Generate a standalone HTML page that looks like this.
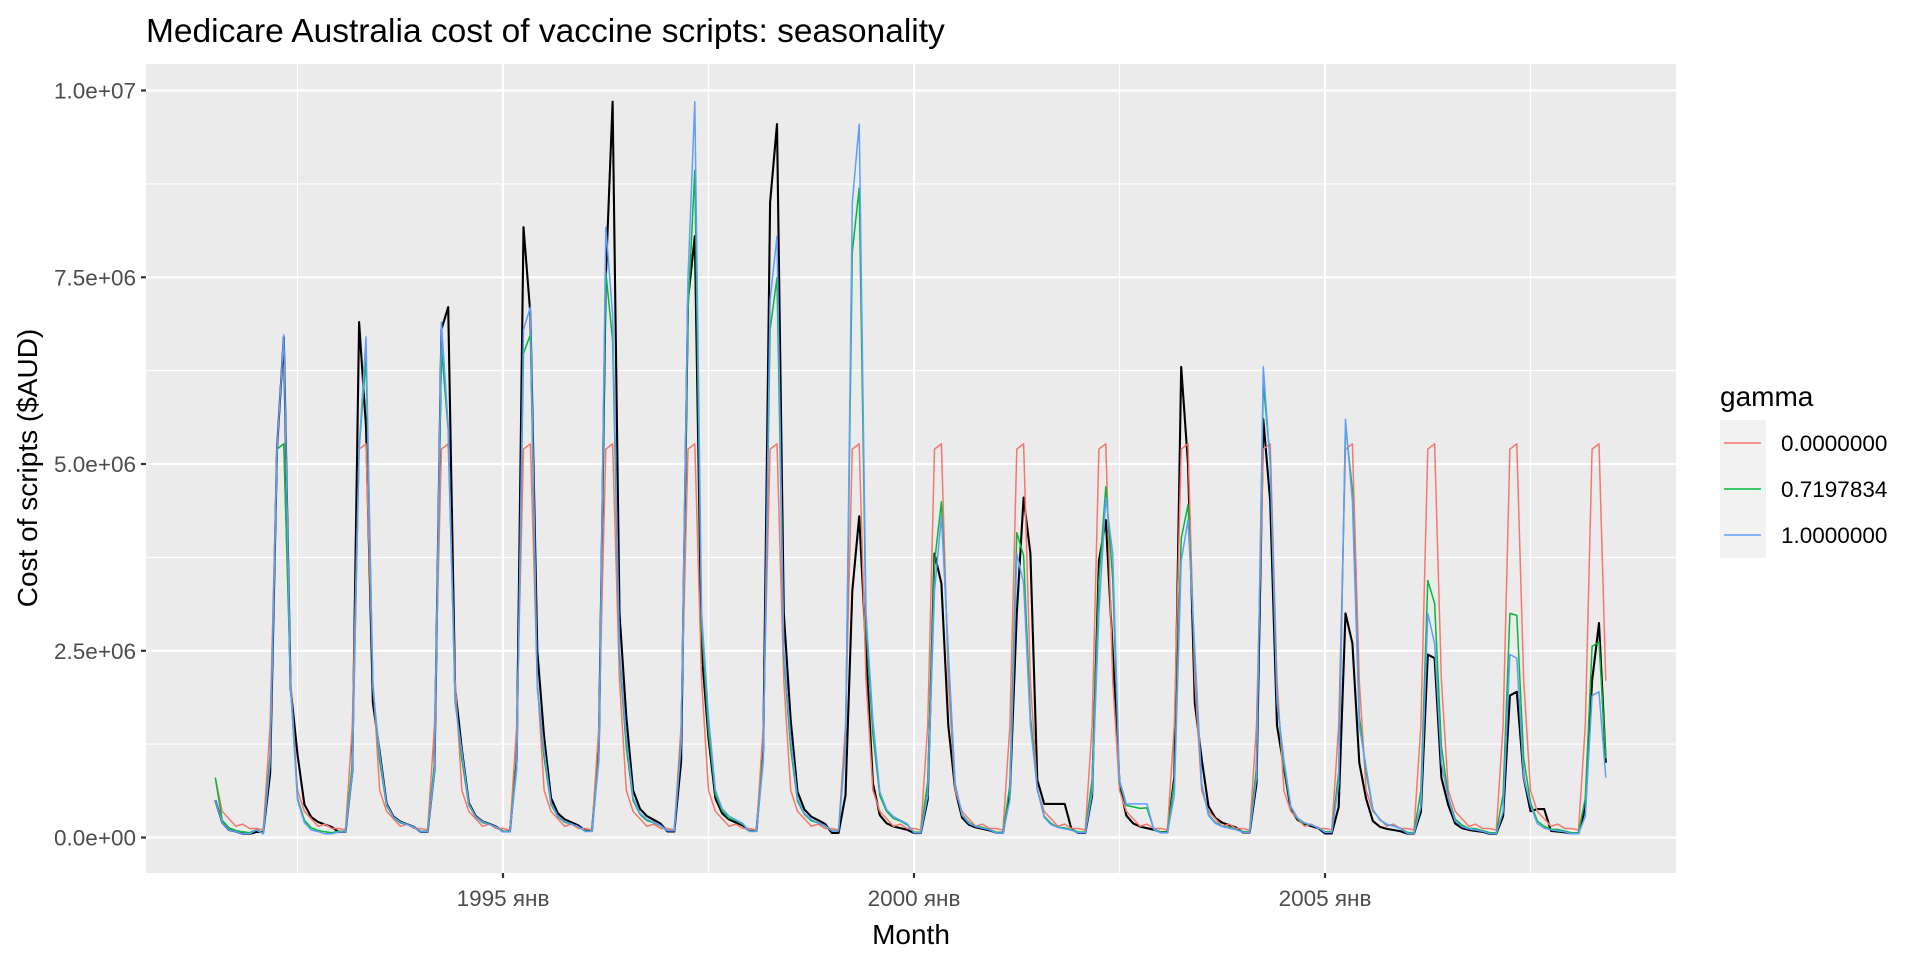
<!DOCTYPE html>
<html><head><meta charset="utf-8">
<style>
html,body{margin:0;padding:0;background:#fff;}
svg{display:block;font-family:"Liberation Sans",Arial,sans-serif;}
</style></head>
<body>
<svg id="s" width="1920" height="960" viewBox="0 0 1920 960" xmlns="http://www.w3.org/2000/svg">
<rect x="0" y="0" width="1920" height="960" fill="#fff"/>
<rect x="146" y="64" width="1530" height="809" fill="#ebebeb"/>
<g stroke="#fff" stroke-width="1.1">
<line x1="146" x2="1676" y1="744.1" y2="744.1"/>
<line x1="146" x2="1676" y1="557.4" y2="557.4"/>
<line x1="146" x2="1676" y1="370.6" y2="370.6"/>
<line x1="146" x2="1676" y1="183.9" y2="183.9"/>
<line x1="297.5" x2="297.5" y1="64" y2="873"/>
<line x1="708.5" x2="708.5" y1="64" y2="873"/>
<line x1="1119.5" x2="1119.5" y1="64" y2="873"/>
<line x1="1530.5" x2="1530.5" y1="64" y2="873"/>
</g>
<g stroke="#fff" stroke-width="2.2">
<line x1="146" x2="1676" y1="837.5" y2="837.5"/>
<line x1="146" x2="1676" y1="650.8" y2="650.8"/>
<line x1="146" x2="1676" y1="464" y2="464"/>
<line x1="146" x2="1676" y1="277.3" y2="277.3"/>
<line x1="146" x2="1676" y1="90.5" y2="90.5"/>
<line x1="503" x2="503" y1="64" y2="873"/>
<line x1="914" x2="914" y1="64" y2="873"/>
<line x1="1325" x2="1325" y1="64" y2="873"/>
</g>
<g id="lines" fill="none" stroke-linejoin="round"></g>
<g stroke="#333" stroke-width="2.2">
<line x1="141" x2="146" y1="837.5" y2="837.5"/>
<line x1="141" x2="146" y1="650.8" y2="650.8"/>
<line x1="141" x2="146" y1="464" y2="464"/>
<line x1="141" x2="146" y1="277.3" y2="277.3"/>
<line x1="141" x2="146" y1="90.5" y2="90.5"/>
<line x1="503" x2="503" y1="873" y2="878"/>
<line x1="914" x2="914" y1="873" y2="878"/>
<line x1="1325" x2="1325" y1="873" y2="878"/>
</g>
<g fill="#4d4d4d" font-size="22.5" text-anchor="end">
<text x="136" y="845.5">0.0e+00</text>
<text x="136" y="658.8">2.5e+06</text>
<text x="136" y="472">5.0e+06</text>
<text x="136" y="285.3">7.5e+06</text>
<text x="136" y="98.5">1.0e+07</text>
</g>
<g fill="#4d4d4d" font-size="22.5" text-anchor="middle">
<text x="503" y="906">1995 янв</text>
<text x="914" y="906">2000 янв</text>
<text x="1325" y="906">2005 янв</text>
</g>
<text x="911" y="944" font-size="28" text-anchor="middle" fill="#000">Month</text>
<text transform="translate(37,468) rotate(-90)" font-size="28" text-anchor="middle" fill="#000">Cost of scripts ($AUD)</text>
<text x="146" y="42" font-size="33.5" fill="#000">Medicare Australia cost of vaccine scripts: seasonality</text>
<text x="1720" y="406" font-size="28" fill="#000">gamma</text>
<rect x="1720" y="420" width="46" height="138" fill="#f2f2f2"/>
<line x1="1724" x2="1761" y1="443" y2="443" stroke="#F8766D" stroke-width="1.5"/>
<line x1="1724" x2="1761" y1="489" y2="489" stroke="#00BA38" stroke-width="1.5"/>
<line x1="1724" x2="1761" y1="535" y2="535" stroke="#619CFF" stroke-width="1.5"/>
<g font-size="22.5" fill="#000">
<text x="1781" y="451">0.0000000</text>
<text x="1781" y="497">0.7197834</text>
<text x="1781" y="543">1.0000000</text>
</g>
</svg>
<script>
(function(){
var red=[0.12,0.1,1.5,5.2,5.27,2.1,0.63,0.35,0.25,0.15,0.18,0.12];
var bk={1992:[5.2,6.7,2.0],1993:[6.9,5.5,1.8],1994:[6.8,7.1,2.0],1995:[8.17,7.0,2.5],1996:[7.5,9.85,3.0],
1997:[7.2,8.05,2.5],1998:[8.5,9.55,3.0],1999:[3.3,4.3,2.5],2000:[3.8,3.4,1.5],2001:[3.0,4.55,3.8],
2002:[3.7,4.25,2.5],2003:[6.3,5.0,1.8],2004:[5.6,4.5,1.5],2005:[3.0,2.6,1.0],2006:[2.45,2.4,0.8],
2007:[1.9,1.95,0.8],2008:[2.1,2.87,1.0]};
var black=[],months=[];
for(var y=1991;y<=2008;y++)for(var m=0;m<12;m++){
 if(y==1991&&m<6)continue; if(y==2008&&m>5)continue;
 months.push([y,m]);
}
months.forEach(function(ym){
 var y=ym[0],m=ym[1],v;
 if(y==1991){v=[0,0,0,0,0,0,0.5,0.2,0.1,0.08,0.05,0.05][m];}
 else{
  var p=bk[y],pk=Math.max(p[0],p[1]);
  if(m==3)v=p[0];else if(m==4)v=p[1];else if(m==5)v=p[2];
  else if(m==2)v=0.12*pk+0.05;
  else if(m==0||m==1)v=0.04+0.005*pk;
  else {var r=[0,0,0,0,0,0,0.16,0.06,0.035,0.025,0.02,0.015][m];v=r*pk+0.04;}
  if(y==2001&&m>=7&&m<=10)v=0.45;
  if(y==2007&&(m==7||m==8))v=0.38;
 }
 black.push(v);
});
var blue=[],green=[],redv=[];
for(var i=0;i<months.length;i++){
 var m=months[i][1],b;
 if(i>=12)b=black[i-12];
 else{ b=[0.1,0.05,1.0,5.2,6.73,2.0,0.45,0.12,0.08,0.06,0.04,0.04][m]; if(months[i][0]==1991)b=black[i];}
 blue.push(b);
 var rv=red[m]; if(i==0)rv=0.8;
 redv.push(rv);
 var g=0.8*b+0.2*rv; if(months[i][0]==1992&&m>=3&&m<=4)g=[5.2,5.27][m-3]; if(i==0)g=0.8;
 green.push(g);
}
function X(i){var y=months[i][0],m=months[i][1];return 503+((y-1995)*12+m)*6.85;}
function Y(v){return 837.5-v*74.7;}
function pl(arr,col,w){
 var pts=arr.map(function(v,i){return X(i).toFixed(1)+","+Y(v).toFixed(1);}).join(" ");
 var p=document.createElementNS("http://www.w3.org/2000/svg","polyline");
 p.setAttribute("points",pts);p.setAttribute("stroke",col);p.setAttribute("stroke-width",w);
 document.getElementById("lines").appendChild(p);
}
pl(black,"#000",2.1);
pl(redv,"#F8766D",1.5);
pl(green,"#00BA38",1.5);
pl(blue,"#619CFF",1.5);
})();
</script>
</body></html>
